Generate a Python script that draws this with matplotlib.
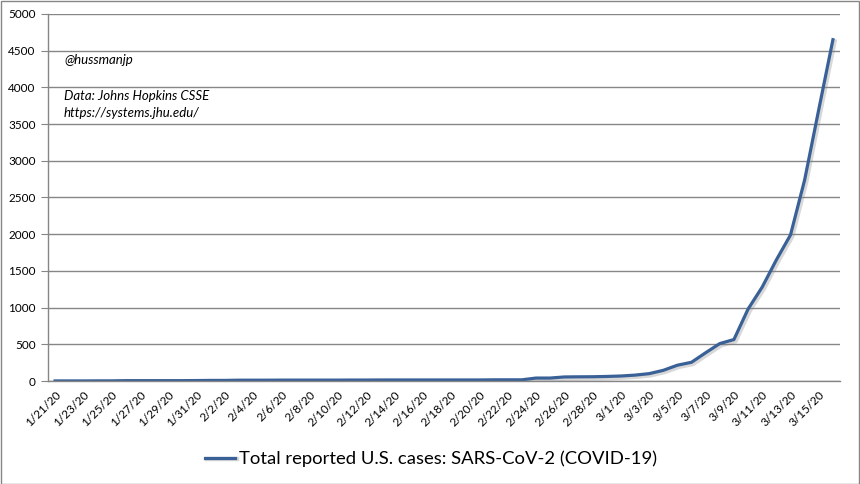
import pandas as pd
import matplotlib.pyplot as plt
import matplotlib.patheffects as pe
from matplotlib.patches import Rectangle

plt.rcParams['font.family'] = ['Lato', 'DejaVu Sans']

# Data: total reported U.S. cases, daily from 1/21/20 to 3/16/20
dates = pd.date_range('2020-01-21', '2020-03-16', freq='D')
date_labels = [f"{d.month}/{d.day}/20" for d in dates]
cases = [
    1, 1, 1, 2, 2, 5, 5, 5, 5, 5, 6,                      # Jan 21-31
    8, 8, 11, 11, 11, 12, 12, 12, 12, 12, 13, 13, 14, 14,  # Feb 1-14
    14, 14, 14, 14, 14, 14, 16, 16, 16, 40, 40, 55, 57,    # Feb 15-27
    58, 62,                                                # Feb 28-29
    68, 80, 100, 145, 215, 255, 385, 510, 565, 980,        # Mar 1-10
    1280, 1650, 1990, 2740, 3700, 4650,                    # Mar 11-16
]
y_ticks = list(range(0, 5001, 500))
series_name = 'Total reported U.S. cases: SARS-CoV-2 (COVID-19)'

fig = plt.figure(figsize=(8.6, 4.84), dpi=100)
ax = fig.add_axes([48 / 860, 103 / 484, 792 / 860, 367 / 484])

x = list(range(len(cases)))
ax.plot(x, cases, color='#3A6197', lw=2.3, solid_joinstyle='round',
        label=series_name,
        path_effects=[pe.SimpleLineShadow(offset=(1.2, -1.2), shadow_color='gray', alpha=0.3, linewidth=3.2),
                      pe.Normal()])

ax.set_xlim(-0.5, len(cases) - 0.5)
ax.set_ylim(0, 5000)
ax.set_yticks(y_ticks)
ax.set_yticklabels([str(v) for v in y_ticks], fontsize=8.5)
ax.set_xticks(x[::2])
ax.set_xticklabels(date_labels[::2], rotation=45, ha='right', rotation_mode='anchor', fontsize=8.5)
ax.tick_params(axis='x', length=0, pad=6)
ax.tick_params(axis='y', length=5, color='#868686', pad=4)

ax.grid(axis='y', color='#868686', lw=1)
ax.set_axisbelow(True)
for side in ['top', 'right']:
    ax.spines[side].set_visible(False)
for side in ['left', 'bottom']:
    ax.spines[side].set_color('#868686')
    ax.spines[side].set_linewidth(1)

fig.text(64 / 860, 1 - 60 / 484, '@hussmanjp', fontsize=9.5, style='italic', va='center')
fig.text(64 / 860, 1 - 96 / 484, 'Data: Johns Hopkins CSSE', fontsize=9.5, style='italic', va='center')
fig.text(64 / 860, 1 - 113 / 484, 'https://systems.jhu.edu/', fontsize=9.5, style='italic', va='center')

fig.legend(loc='center', bbox_to_anchor=(431 / 860, 1 - 459 / 484), frameon=False,
           fontsize=13.3, handlelength=1.6, handletextpad=0.2)

fig.patches.append(Rectangle((0.001, 0.001), 0.998, 0.997, transform=fig.transFigure,
                             fill=False, edgecolor='#868686', lw=1))

fig.savefig('out.png', dpi=100)
